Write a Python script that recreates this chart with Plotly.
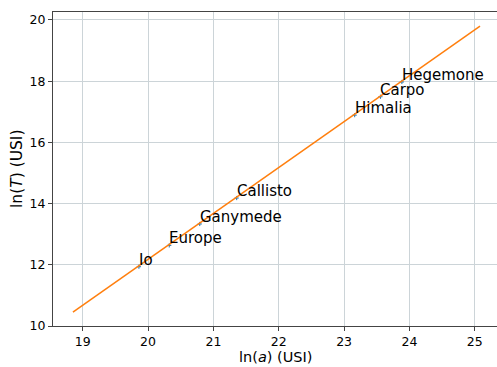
import plotly.graph_objects as go

# Jupiter moons: log of semi-major axis and period (SI units)
moons = ["Io", "Europe", "Ganymede", "Callisto", "Himalia", "Carpo", "Hegemone"]
ln_a = [19.860, 20.324, 20.791, 21.356, 23.162, 23.556, 23.884]
ln_T = [11.937, 12.634, 13.334, 14.181, 16.890, 17.490, 17.973]

# linear fit ln(T) = 1.5 ln(a) + b, drawn between its end points
fit_x = [18.85, 25.08]
fit_y = [10.455, 19.80]

x_ticks = [19, 20, 21, 22, 23, 24, 25]
y_ticks = [10, 12, 14, 16, 18, 20]

font = "DejaVu Sans, Verdana, sans-serif"

fig = go.Figure()
fig.add_trace(go.Scatter(x=ln_a, y=ln_T, mode="markers",
                         marker=dict(color="#1f77b4", size=3, symbol="cross-thin",
                                     line=dict(color="#1f77b4", width=1)),
                         hoverinfo="skip"))
fig.add_trace(go.Scatter(x=fit_x, y=fit_y, mode="lines",
                         line=dict(color="#ff7f0e", width=1.5)))

for name, xa, yt in zip(moons, ln_a, ln_T):
    fig.add_annotation(x=xa, y=yt, text=name, showarrow=False,
                       xanchor="left", yanchor="bottom", yshift=-4, xshift=-2,
                       font=dict(family=font, size=15, color="black"))

# axis titles
fig.add_annotation(xref="paper", yref="paper", x=0.5, y=0, text="ln(<i>a</i>) (USI)",
                   showarrow=False, xanchor="center", yanchor="top", yshift=-22,
                   borderpad=0, font=dict(family=font, size=14.5, color="black"))
fig.add_annotation(xref="paper", yref="paper", x=0, y=0.5, text="ln(<i>T</i>) (USI)",
                   showarrow=False, xanchor="right", yanchor="middle", xshift=-26,
                   borderpad=0, textangle=-90, font=dict(family=font, size=15.5, color="black"))

axis_common = dict(showgrid=True, gridcolor="#ccd4d8", gridwidth=1,
                   zeroline=False, showline=True, linecolor="#444444", linewidth=1,
                   ticks="outside", ticklen=4, tickcolor="#444444",
                   automargin=False,
                   tickfont=dict(family=font, size=12.5, color="black"))

fig.update_xaxes(range=[18.545, 25.34], tickvals=x_ticks, mirror=True, **axis_common)
fig.update_yaxes(range=[10.0, 20.26], tickvals=y_ticks, mirror=False, **axis_common)

fig.update_layout(width=497, height=367, showlegend=False,
                  margin=dict(l=53, r=0, t=12, b=41),
                  plot_bgcolor="white", paper_bgcolor="white")

fig.write_html("out.html")
